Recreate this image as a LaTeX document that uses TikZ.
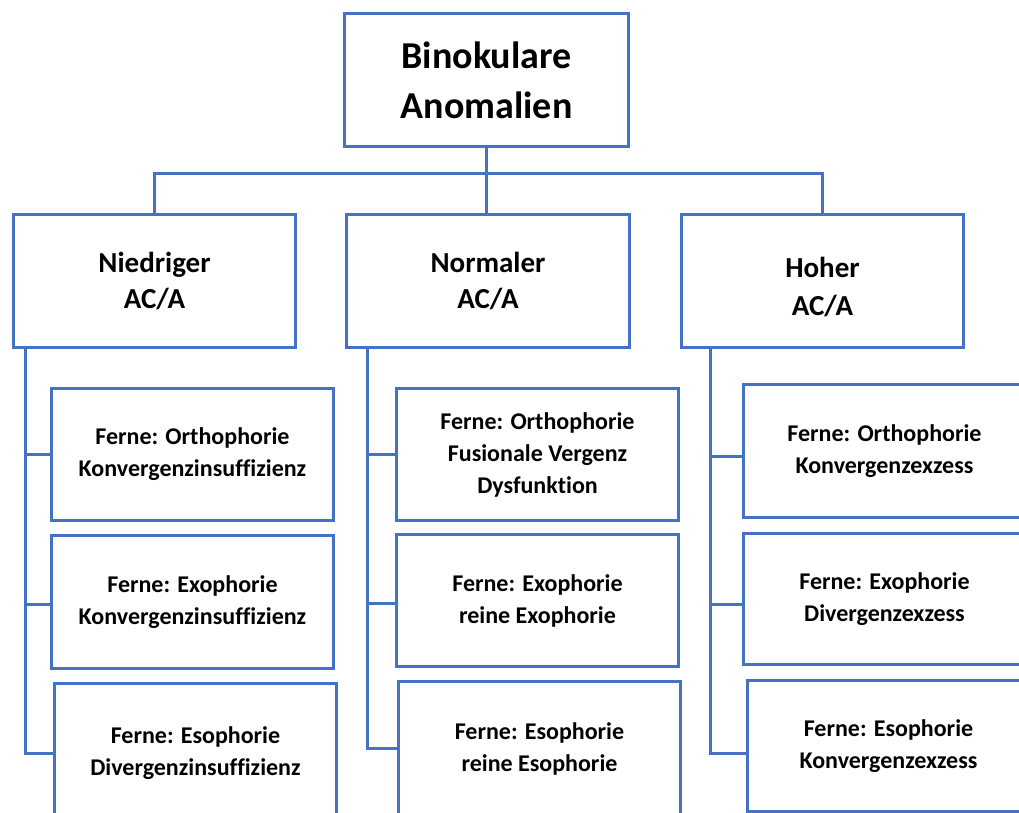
\documentclass[tikz,border=0pt]{standalone}
\usepackage{fontspec}
\setmainfont{Carlito}[Ligatures=NoCommon]
\usetikzlibrary{calc}
\definecolor{boxblue}{HTML}{4472C4}
\tikzset{
  box/.style={draw=boxblue, line width=3pt, fill=white, anchor=north west, inner sep=0pt, align=center, font=\bfseries},
  conn/.style={draw=boxblue, line width=3pt},
  topfont/.style={font=\bfseries\fontsize{38}{50}\selectfont},
  midfont/.style={font=\bfseries\fontsize{29}{36}\selectfont},
  leaffont/.style={font=\bfseries\fontsize{24}{32}\selectfont}
}
\begin{document}
\begin{tikzpicture}[x=1pt,y=-1pt]
\clip (0,0) rectangle (1019,812);
\fill[white] (0,0) rectangle (1019,812);
% top
\node[box, topfont, minimum width=284pt, minimum height=133pt] (top) at (343,12) {Binokulare\\Anomalien};
% level 2
\node[box, midfont, minimum width=282pt, minimum height=133pt] (l) at (12,213) {Niedriger\\AC/A};
\node[box, midfont, minimum width=283pt, minimum height=133pt] (m) at (345,213) {Normaler\\AC/A};
\node[box, minimum width=282pt, minimum height=133pt] (r) at (680,213) {};
\node[midfont, align=center, font=\bfseries\fontsize{29}{38}\selectfont] (rt) at ([yshift=-6pt]r.center) {Hoher\\AC/A};
% leaves left
\node[box, leaffont, minimum width=282pt, minimum height=132pt] (l1) at (50,387) {Ferne: Orthophorie\\Konvergenzinsuffizienz};
\node[box, leaffont, minimum width=282pt, minimum height=133pt] (l2) at (50,534) {Ferne: Exophorie\\Konvergenzinsuffizienz};
\node[box, leaffont, minimum width=282pt, minimum height=140pt] (l3) at (53,682) {Ferne: Esophorie\\Divergenzinsuffizienz};
% leaves middle
\node[box, leaffont, minimum width=282pt, minimum height=132pt] (m1) at (395,387) {Ferne: Orthophorie\\Fusionale Vergenz\\Dysfunktion};
\node[box, leaffont, minimum width=282pt, minimum height=132pt] (m2) at (395,533) {Ferne: Exophorie\\reine Exophorie};
\node[box, leaffont, minimum width=282pt, minimum height=134pt] (m3) at (397,680) {Ferne: Esophorie\\reine Esophorie};
% leaves right
\node[box, leaffont, minimum width=300pt, minimum height=133pt] (r1) at (742,383) {\hspace*{-18pt}Ferne: Orthophorie\\\hspace*{-18pt}Konvergenzexzess};
\node[box, leaffont, minimum width=300pt, minimum height=131pt] (r2) at (742,532) {\hspace*{-18pt}Ferne: Exophorie\\\hspace*{-18pt}Divergenzexzess};
\node[box, leaffont, minimum width=300pt, minimum height=131pt] (r3) at (746,679) {\hspace*{-18pt}Ferne: Esophorie\\\hspace*{-18pt}Konvergenzexzess};
% top connectors
\coordinate (bus) at (0,173);
\draw[conn] (top.south) -- (top.south |- m.north);
\draw[conn] (l.north) -- (l.north |- bus) -- (r.north |- bus) -- (r.north);
% column connectors
\coordinate (lc) at (25,346);
\coordinate (mc) at (367,346);
\coordinate (rc) at (710,346);
\draw[conn] (lc) |- (l3.west);
\draw[conn] (lc |- l1.west) -- (l1.west);
\draw[conn] ([yshift=-2pt]lc |- l2.west) -- ([yshift=-2pt]l2.west);
\draw[conn] (mc) |- (m3.west);
\draw[conn] (mc |- m1.west) -- (m1.west);
\draw[conn] ([yshift=-3pt]mc |- m2.west) -- ([yshift=-3pt]m2.west);
\draw[conn] (rc) |- ([yshift=-7pt]r3.west);
\draw[conn] ([yshift=-5pt]rc |- r1.west) -- ([yshift=-5pt]r1.west);
\draw[conn] ([yshift=-5pt]rc |- r2.west) -- ([yshift=-5pt]r2.west);
\end{tikzpicture}
\end{document}
